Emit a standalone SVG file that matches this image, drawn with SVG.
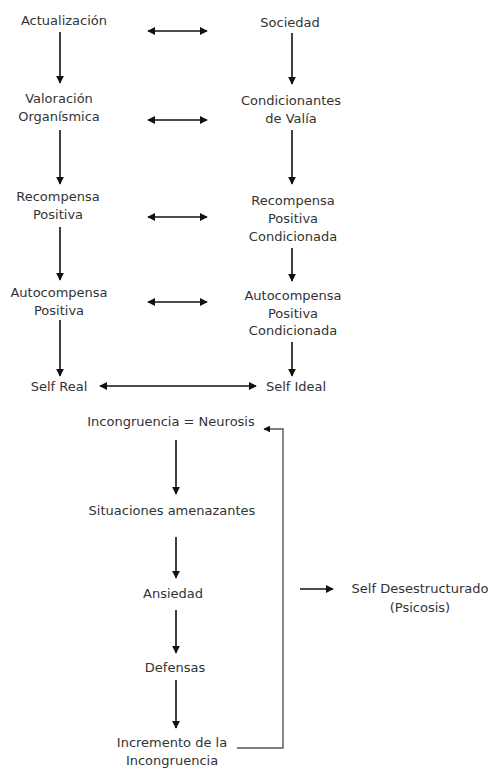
<svg xmlns="http://www.w3.org/2000/svg" width="492" height="768" viewBox="0 0 492 768">
  <defs>
    <marker id="head" viewBox="0 0 10 10" refX="9" refY="5" markerWidth="5" markerHeight="5" orient="auto-start-reverse" markerUnits="strokeWidth">
      <path d="M0,0 L10,5 L0,10 z" fill="#111"/>
    </marker>
    <style>
      text { font-family: "DejaVu Sans", Verdana, sans-serif; font-size: 13px; fill: #333; text-anchor: middle; }
      .arrow { stroke: #111; stroke-width: 1.6; fill: none; marker-end: url(#head); }
      .both { stroke: #111; stroke-width: 1.6; fill: none; marker-start: url(#head); marker-end: url(#head); }
      .loop { stroke: #555; stroke-width: 1.4; fill: none; marker-end: url(#head); }
    </style>
  </defs>
  <rect width="492" height="768" fill="#fff"/>

  <!-- connectors -->
  <g id="connectors">
    <!-- left column -->
    <line class="arrow" x1="60" y1="32" x2="60" y2="83"/>
    <line class="arrow" x1="60" y1="130" x2="60" y2="184"/>
    <line class="arrow" x1="60" y1="227" x2="60" y2="280"/>
    <line class="arrow" x1="60" y1="320" x2="60" y2="376"/>
    <!-- right column -->
    <line class="arrow" x1="292" y1="33" x2="292" y2="84"/>
    <line class="arrow" x1="292" y1="130" x2="292" y2="184"/>
    <line class="arrow" x1="292" y1="248" x2="292" y2="281"/>
    <line class="arrow" x1="292" y1="342" x2="292" y2="376"/>
    <!-- paired relations -->
    <line class="both" x1="148" y1="31" x2="207" y2="31"/>
    <line class="both" x1="148" y1="120" x2="207" y2="120"/>
    <line class="both" x1="148" y1="217" x2="207" y2="217"/>
    <line class="both" x1="148" y1="302" x2="207" y2="302"/>
    <line class="both" x1="100" y1="386" x2="256" y2="386"/>
    <!-- neurosis chain -->
    <line class="arrow" x1="176" y1="440" x2="176" y2="494"/>
    <line class="arrow" x1="176" y1="537" x2="176" y2="578"/>
    <line class="arrow" x1="176" y1="610" x2="176" y2="653"/>
    <line class="arrow" x1="176" y1="680" x2="176" y2="728"/>
    <!-- feedback loop -->
    <polyline class="loop" points="237,748 283,748 283,429 264,429"/>
    <!-- to psychosis -->
    <line class="arrow" x1="300" y1="589" x2="333" y2="589"/>
  </g>

  <!-- left column nodes -->
  <g id="actualizacion"><text x="64" y="25">Actualización</text></g>
  <g id="valoracion"><text x="59" y="103">Valoración</text><text x="59" y="121">Organísmica</text></g>
  <g id="recompensa"><text x="58" y="201">Recompensa</text><text x="58" y="219">Positiva</text></g>
  <g id="autocompensa"><text x="59" y="297">Autocompensa</text><text x="59" y="315">Positiva</text></g>
  <g id="self-real"><text x="59" y="391">Self Real</text></g>

  <!-- right column nodes -->
  <g id="sociedad"><text x="290" y="27">Sociedad</text></g>
  <g id="condicionantes"><text x="291" y="105">Condicionantes</text><text x="291" y="123">de Valía</text></g>
  <g id="recompensa-cond"><text x="293" y="205">Recompensa</text><text x="293" y="223">Positiva</text><text x="293" y="241">Condicionada</text></g>
  <g id="autocompensa-cond"><text x="293" y="300">Autocompensa</text><text x="293" y="318">Positiva</text><text x="293" y="335">Condicionada</text></g>
  <g id="self-ideal"><text x="296" y="391">Self Ideal</text></g>

  <!-- neurosis chain nodes -->
  <g id="incongruencia"><text x="171" y="426">Incongruencia = Neurosis</text></g>
  <g id="situaciones"><text x="172" y="515">Situaciones amenazantes</text></g>
  <g id="ansiedad"><text x="173" y="598">Ansiedad</text></g>
  <g id="defensas"><text x="175" y="672">Defensas</text></g>
  <g id="incremento"><text x="172" y="747">Incremento de la</text><text x="172" y="765">Incongruencia</text></g>
  <g id="self-desestructurado"><text x="420" y="593">Self Desestructurado</text><text x="420" y="612">(Psicosis)</text></g>
</svg>
